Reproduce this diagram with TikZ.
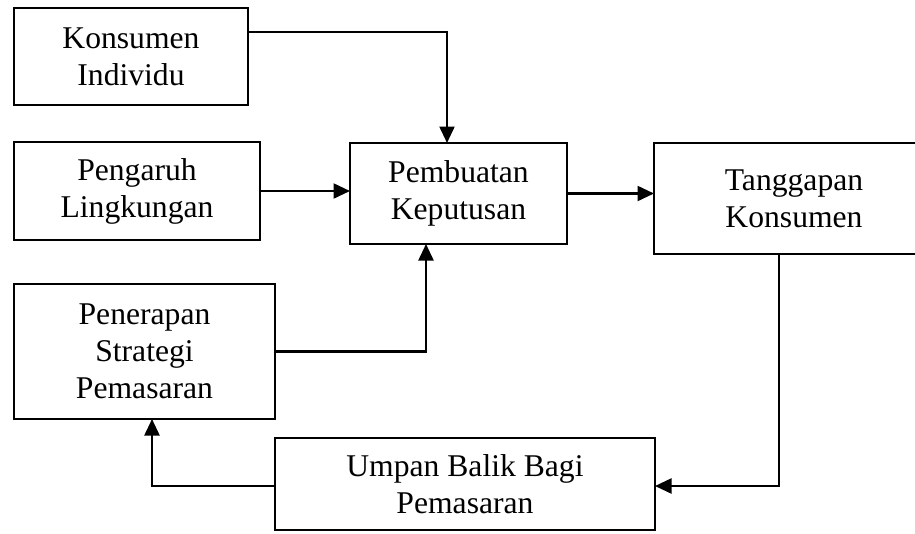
\documentclass[tikz,border=0pt]{standalone}
\usepackage{fontspec}
\setmainfont{Liberation Serif}
\usetikzlibrary{positioning}
\usetikzlibrary{calc}
\usetikzlibrary{arrows.meta}

\begin{document}
\begin{tikzpicture}[
        node/.style={draw, line width=1.1pt, outer sep=0pt, align=center, inner sep=2pt,
            font=\fontsize{18}{21}\selectfont},
        arrow/.style={line width=1.3pt, -{Triangle[length=0.33cm, width=0.3cm]}}
    ]
        \useasboundingbox (-0.28,0.16) rectangle (18.02,-10.52);

        \node[node, minimum width=4.68cm, minimum height=1.94cm, anchor=north west] (n0) at (0,0) {Konsumen\\Individu};
        \node[node, minimum width=4.92cm, minimum height=1.96cm, below=0.74cm of n0.south west, anchor=north west] (n1) {Pengaruh\\Lingkungan};
        \node[node, minimum width=4.34cm, minimum height=2.02cm, right=1.8cm of n1.north east, anchor=north west, yshift=-0.02cm] (n2) {Pembuatan\\Keputusan};
        \node[node, minimum width=5.6cm, minimum height=2.22cm, right=1.74cm of n2.north east, anchor=north west] (n3) {Tanggapan\\Konsumen};
        \node[node, minimum width=5.22cm, minimum height=2.7cm, below=0.88cm of n1.south west, anchor=north west] (n4) {Penerapan\\Strategi\\Pemasaran};
        \node[node, minimum width=7.6cm, minimum height=1.84cm, below=0.38cm of n4.south east, anchor=north west] (n5) {Umpan Balik Bagi\\Pemasaran};

        \draw[arrow] ($(n0.north east)!0.25!(n0.south east)$) -| ([xshift=-0.23cm]n2.north);
        \draw[arrow] (n1.east) -- (n1.east -| n2.west);
        \draw[arrow] (n4.east) -| ([xshift=-0.65cm]n2.south);
        \draw[arrow] (n2.east) -- (n2.east -| n3.west);
        \draw[arrow] ([xshift=-0.3cm]n3.south) |- ([yshift=-0.04cm]n5.east);
        \draw[arrow] ([yshift=-0.04cm]n5.west) -| ([xshift=0.15cm]n4.south);
    \end{tikzpicture}
\end{document}
